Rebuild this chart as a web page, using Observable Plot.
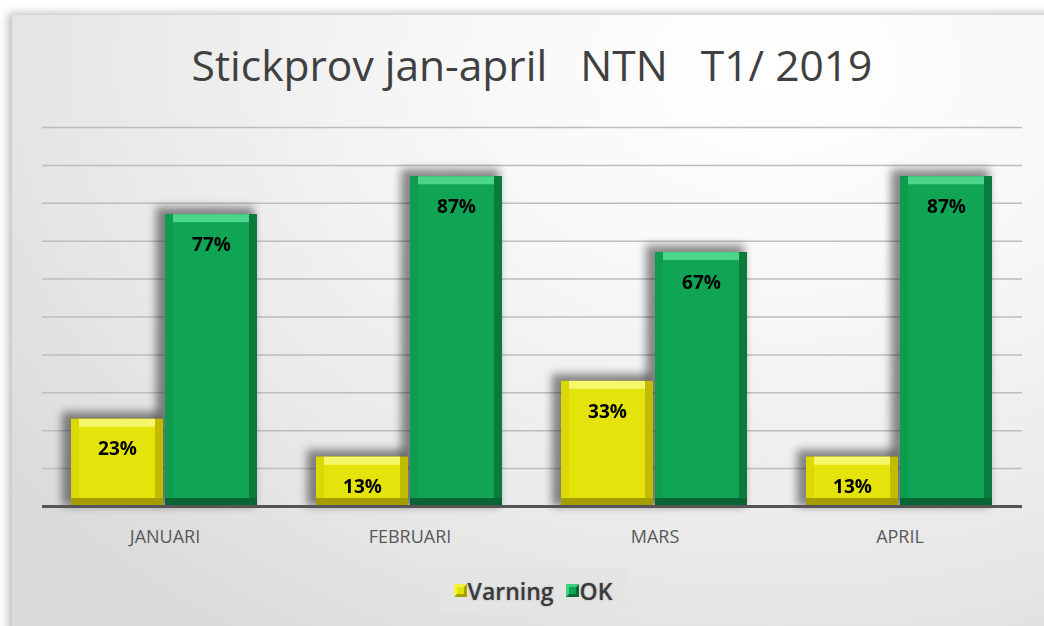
<!DOCTYPE html>
<html>
<head>
<meta charset="utf-8">
<script src="https://cdn.jsdelivr.net/npm/d3@7"></script>
<script src="https://cdn.jsdelivr.net/npm/@observablehq/plot@0.6"></script>
<style>
  html, body { margin: 0; padding: 0; background: #ffffff; }
  body { width: 1044px; height: 626px; overflow: hidden; position: relative; font-family: "Open Sans", "Noto Sans", sans-serif; }
  #frame {
    position: absolute; left: 12px; top: 15px; width: 1060px; height: 640px;
    background: radial-gradient(ellipse 90% 110% at 72% 8%, #ffffff 0%, #f7f7f7 35%, #e9e9e9 70%, #dadada 100%);
    box-shadow: -4px -2px 8px rgba(0,0,0,0.25);
  }
  #title {
    position: absolute; left: 0; top: 36px; width: 1064px; text-align: center;
    font-size: 42.5px; color: #404040; white-space: pre;
  }
  #chart { position: absolute; left: 0; top: 100px; }
  #legend {
    position: absolute; left: 440px; top: 568px; width: 186px; height: 45px;
    background: #e4e4e4; display: flex; align-items: center; justify-content: center; gap: 12px;
    font-size: 23px; font-weight: 600; color: #3a3a3a; text-shadow: 0 0 2px rgba(0,0,0,0.3);
  }
  #legend span { display: flex; align-items: center; gap: 1px; }
</style>
</head>
<body>
<div id="frame"></div>
<div id="title">Stickprov jan-april   NTN   T1/ 2019</div>
<div id="chart"></div>
<div id="legend">
  <span><svg width="13" height="13"><polygon points="0,0 13,0 0,13" fill="#f2f24a"/><polygon points="13,0 13,13 0,13" fill="#a9a300"/><rect x="3" y="3" width="7" height="7" fill="#e2e20c"/></svg>Varning</span>
  <span><svg width="13" height="13"><polygon points="0,0 13,0 0,13" fill="#3dcf80"/><polygon points="13,0 13,13 0,13" fill="#0a6a35"/><rect x="3" y="3" width="7" height="7" fill="#10a455"/></svg>OK</span>
</div>
<script>
const months = ["JANUARI", "FEBRUARI", "MARS", "APRIL"];
const series = ["Varning", "OK"];
const varning = [0.23, 0.13, 0.33, 0.13];
const ok = [0.77, 0.87, 0.67, 0.87];
const gridTicks = [0.1, 0.2, 0.3, 0.4, 0.5, 0.6, 0.7, 0.8, 0.9, 1.0];

const data = months.flatMap((m, i) => [
  {month: m, series: "Varning", value: varning[i]},
  {month: m, series: "OK", value: ok[i]}
]);

const face   = {Varning: "#e4e40c", OK: "#10a555"};
const topC   = {Varning: "#f6f66a", OK: "#4bd68b"};
const leftC  = {Varning: "#dcd800", OK: "#0f9c4e"};
const rightC = {Varning: "#c2bb00", OK: "#0b7b3d"};
const botC   = {Varning: "#a39d00", OK: "#096533"};

const b = 8;
const common = {fx: "month", x: "series", y: "value"};

const chart = Plot.plot({
  width: 1044,
  height: 460,
  marginLeft: 42,
  marginRight: 22,
  marginTop: 27,
  marginBottom: 54,
  style: {background: "transparent", overflow: "visible", fontSize: "18px", fontFamily: "'Open Sans', sans-serif", color: "#595959"},
  fx: {domain: months, padding: 0, label: null, axis: "bottom", tickSize: 0, tickPadding: 24},
  x: {domain: series, paddingInner: 0.02, paddingOuter: 0.31, axis: null},
  y: {domain: [0, 1], axis: null},
  marks: [
    Plot.ruleY(gridTicks, {stroke: "#bdbdbd", strokeWidth: 1.5}),
    // soft shadow (blurred after render)
    Plot.barY(data, {...common, fill: "#000", fillOpacity: 0.45, insetLeft: -9, insetRight: 3, insetTop: -7}),
    // bevel layers
    Plot.barY(data, {...common, fill: d => botC[d.series]}),
    Plot.barY(data, {...common, fill: d => rightC[d.series], insetBottom: b}),
    Plot.barY(data, {...common, fill: d => leftC[d.series], insetBottom: b, insetRight: b}),
    Plot.barY(data, {...common, fill: d => topC[d.series], insetBottom: b, insetLeft: b, insetRight: b}),
    Plot.barY(data, {...common, fill: d => face[d.series], inset: b}),
    Plot.ruleY([0], {stroke: "#555555", strokeWidth: 3}),
    Plot.text(data, {...common, text: d => Math.round(d.value * 100) + "%", dy: 30, fontSize: 19, fontWeight: "bold", fill: "#000"})
  ]
});
// blur filter for the shadow layer
const ns = "http://www.w3.org/2000/svg";
const defs = document.createElementNS(ns, "defs");
defs.innerHTML = '<filter id="softShadow" filterUnits="userSpaceOnUse" x="0" y="0" width="1044" height="460"><feGaussianBlur stdDeviation="4"/></filter>';
chart.insertBefore(defs, chart.firstChild);
const barGroups = chart.querySelectorAll("g[aria-label='bar']");
if (barGroups.length) barGroups[0].setAttribute("filter", "url(#softShadow)");
document.getElementById("chart").appendChild(chart);
</script>
</body>
</html>
